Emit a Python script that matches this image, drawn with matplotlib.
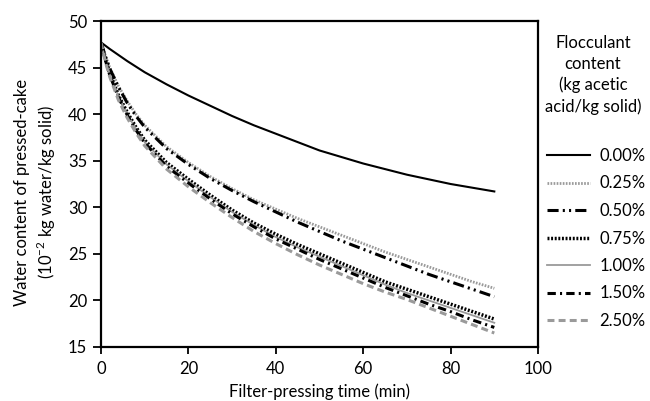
# Water content of pressed cake vs filter-pressing time, by flocculant dose

import matplotlib
matplotlib.use("Agg")
import matplotlib.pyplot as plt
from matplotlib.lines import Line2D

plt.rcParams["font.family"] = ["Lato", "DejaVu Sans"]
plt.rcParams["lines.scale_dashes"] = False
plt.rcParams["mathtext.fontset"] = "custom"
plt.rcParams["mathtext.rm"] = "Lato"

# filter-pressing time (min)
time_min = [0, 1, 2, 4, 6, 8, 10, 15, 20, 25, 30, 35, 40, 45, 50, 55, 60, 65, 70, 75, 80, 85, 90]

# water content (10^-2 kg water / kg solid)
wc_000 = [47.7, 47.35, 47.0, 46.35, 45.7, 45.1, 44.5, 43.2, 42.0, 40.9, 39.8, 38.8, 37.9,
          37.0, 36.1, 35.4, 34.7, 34.1, 33.5, 33.0, 32.5, 32.1, 31.7]
wc_025 = [47.7, 46.3, 45.0, 43.0, 41.4, 40.0, 38.8, 36.5, 34.8, 33.3, 32.0, 30.8, 29.8,
          28.8, 27.9, 27.0, 26.1, 25.2, 24.4, 23.6, 22.8, 22.0, 21.3]
wc_050 = [47.7, 46.2, 44.9, 42.9, 41.2, 39.8, 38.6, 36.3, 34.6, 33.1, 31.8, 30.6, 29.5,
          28.4, 27.4, 26.4, 25.5, 24.6, 23.7, 22.8, 22.0, 21.2, 20.4]
wc_075 = [47.7, 45.9, 44.4, 42.0, 40.2, 38.6, 37.2, 34.8, 33.0, 31.3, 29.7, 28.3, 27.1,
          26.0, 25.0, 24.0, 23.0, 22.0, 21.2, 20.4, 19.6, 18.8, 18.0]
wc_100 = [47.7, 45.8, 44.3, 41.9, 40.0, 38.4, 37.0, 34.6, 32.8, 31.1, 29.5, 28.1, 26.8,
          25.7, 24.7, 23.7, 22.7, 21.7, 20.8, 20.0, 19.2, 18.4, 17.6]
wc_150 = [47.7, 45.8, 44.2, 41.8, 39.9, 38.3, 36.9, 34.4, 32.6, 30.9, 29.3, 27.9, 26.6,
          25.5, 24.4, 23.4, 22.4, 21.4, 20.5, 19.6, 18.8, 17.9, 17.1]
wc_250 = [47.7, 45.6, 44.0, 41.5, 39.6, 38.0, 36.6, 34.1, 32.2, 30.5, 28.9, 27.4, 26.1,
          24.9, 23.8, 22.8, 21.8, 20.9, 20.1, 19.2, 18.3, 17.4, 16.5]

labels = ["0.00%", "0.25%", "0.50%", "0.75%", "1.00%", "1.50%", "2.50%"]
series = [wc_000, wc_025, wc_050, wc_075, wc_100, wc_150, wc_250]

gray = "#9a9a9a"
styles = [
    dict(color="black", lw=1.5, ls="-"),
    dict(color=gray, lw=2.0, ls=(0, (1.2, 1.0))),
    dict(color="black", lw=2.2, ls=(0, (8, 3, 1.5, 3, 1.5, 3))),
    dict(color="black", lw=2.5, ls=(0, (1.4, 1.2))),
    dict(color=gray, lw=1.3, ls="-"),
    dict(color="black", lw=2.2, ls=(0, (6, 3, 1.5, 3))),
    dict(color=gray, lw=2.2, ls=(0, (5, 3))),
]

fs = 12

fig = plt.figure(figsize=(6.5, 4.01), dpi=100)
ax = fig.add_axes([0.1554, 0.1347, 0.6723, 0.8129])

handles = []
for vals, lab, st in zip(series, labels, styles):
    ax.plot(time_min, vals, **st)
    handles.append(Line2D([], [], **st))

ax.set_xlim(0, 100)
ax.set_ylim(15, 50)
ax.set_xticks([0, 20, 40, 60, 80, 100])
ax.set_yticks([15, 20, 25, 30, 35, 40, 45, 50])
ax.tick_params(axis="x", direction="out", length=5, width=1.3, labelsize=fs, pad=5)
ax.tick_params(axis="y", direction="out", length=6, width=1.3, labelsize=fs, pad=4)
for sp in ax.spines.values():
    sp.set_linewidth(1.6)

ax.set_xlabel("Filter-pressing time (min)", fontsize=fs)
ax.xaxis.set_label_coords(0.5, -0.112)
ax.set_ylabel("Water content of pressed-cake\n(10$^{-2}$ kg water/kg solid)",
              fontsize=fs, linespacing=1.3)
ax.yaxis.set_label_coords(-0.098, 0.475)

# legend title drawn as its own text block, entries below it
fig.text(593 / 650, 1 - 35 / 401, "Flocculant\ncontent\n(kg acetic\nacid/kg solid)",
         ha="center", va="top", fontsize=fs, linespacing=1.36)
fig.legend(handles, labels, loc="upper left", bbox_to_anchor=(547 / 650, 1 - 148 / 401),
           bbox_transform=fig.transFigure, frameon=False, fontsize=fs,
           handlelength=2.6, handletextpad=0.55, labelspacing=0.69,
           borderpad=0, borderaxespad=0)

fig.savefig("out.png", dpi=100)
